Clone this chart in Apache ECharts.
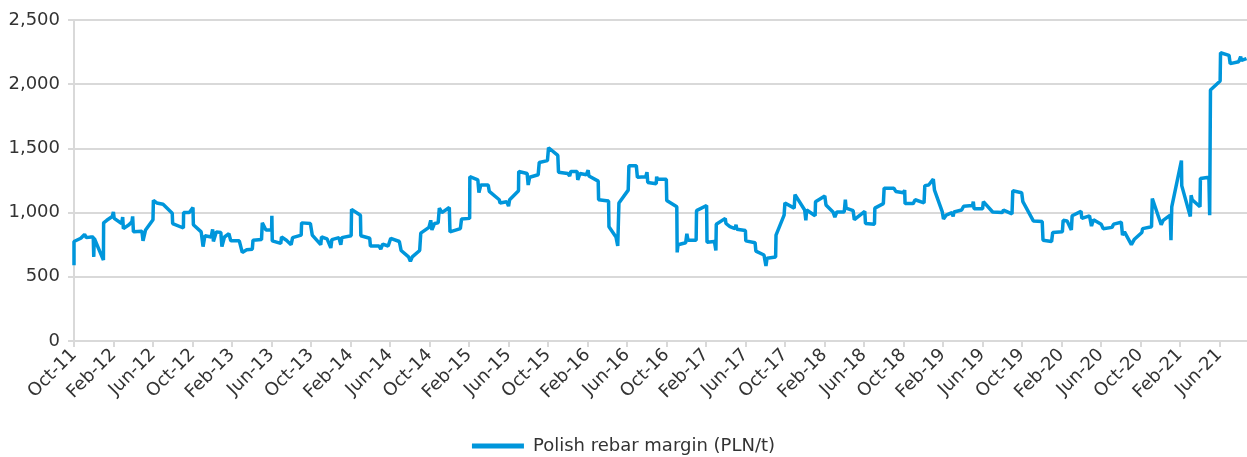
<!DOCTYPE html>
<html>
<head>
<meta charset="utf-8">
<script src="https://cdn.jsdelivr.net/npm/echarts@6/dist/echarts.min.js"></script>
<style>
  html, body { margin: 0; padding: 0; background: #fff; }
  #chart { width: 1247px; height: 457px; }
</style>
</head>
<body>
<div id="chart"></div>
<script>
// x = months since Oct-11
const months = [
  0.00, 0.00, 0.69, 1.07, 1.25, 1.74, 1.95, 2.00, 2.05, 2.98, 3.00, 3.32, 3.88, 3.99, 4.07, 4.82, 4.93, 5.00,
  5.57, 5.87, 5.94, 6.02, 6.88, 6.99, 7.25, 8.00, 8.04, 8.38, 9.02, 9.95, 9.99, 11.08, 11.10, 11.68, 12.05, 12.09,
  12.88, 13.07, 13.26, 13.89, 14.04, 14.12, 14.42, 14.87, 14.98, 15.24, 15.69, 15.88, 16.74, 17.04, 17.49, 18.06,
  18.13, 18.99, 19.07, 19.44, 20.01, 20.04, 20.08, 20.94, 21.02, 21.51, 21.99, 22.14, 23.01, 23.05, 23.94, 24.13,
  24.99, 25.07, 25.63, 26.01, 26.12, 26.83, 27.02, 27.13, 28.07, 28.11, 29.01, 29.05, 29.95, 30.02, 30.88, 31.07,
  31.26, 31.82, 32.08, 32.95, 33.13, 33.88, 34.07, 34.26, 35.01, 35.12, 35.95, 36.13, 36.25, 36.51, 36.88, 37.00,
  37.26, 38.01, 38.08, 39.13, 39.25, 40.07, 40.09, 40.90, 41.01, 41.20, 41.95, 42.06, 43.07, 43.15, 43.82, 44.01,
  44.12, 45.02, 45.04, 45.89, 46.00, 46.15, 47.01, 47.12, 47.95, 48.06, 49.00, 49.07, 50.01, 50.20, 50.31, 50.95,
  51.02, 51.25, 51.89, 52.07, 52.15, 53.09, 53.13, 54.14, 54.18, 54.89, 55.07, 55.19, 56.13, 56.20, 56.95, 57.06,
  57.91, 58.03, 58.11, 58.97, 59.01, 59.09, 59.99, 60.03, 61.05, 61.09, 61.17, 61.95, 62.07, 62.19, 63.01, 63.05,
  64.07, 64.11, 64.86, 65.01, 65.05, 65.96, 66.03, 66.43, 66.94, 67.05, 67.13, 68.00, 68.04, 68.98, 69.06, 69.88,
  70.08, 70.19, 71.06, 71.10, 71.92, 72.00, 72.94, 73.02, 74.00, 74.12, 74.20, 75.06, 75.10, 76.04, 76.16, 76.87,
  77.06, 77.26, 78.01, 78.12, 78.20, 78.91, 79.03, 80.09, 80.16, 81.07, 81.11, 81.97, 82.05, 83.03, 83.23, 84.01,
  84.13, 84.17, 84.99, 85.19, 86.09, 86.17, 86.56, 87.03, 87.15, 87.94, 88.06, 88.33, 88.92, 89.04, 89.12, 89.90,
  90.10, 90.29, 91.00, 91.08, 91.16, 92.02, 92.10, 93.04, 94.02, 94.14, 95.00, 95.08, 95.20, 95.98, 96.10, 97.16,
  98.06, 98.14, 99.01, 99.12, 100.10, 100.18, 100.58, 101.01, 101.09, 101.99, 102.07, 102.85, 103.05, 103.25,
  104.03, 104.23, 105.13, 105.29, 106.07, 106.19, 106.39, 107.09, 107.37, 108.15, 108.23, 109.13, 109.21, 110.11,
  110.31, 111.02, 111.10, 111.18, 112.16, 112.19, 113.06, 113.14, 113.25, 114.04, 114.08, 114.94, 115.02, 115.10,
  116.08, 116.12, 116.98, 117.10, 117.96, 118.16, 118.24, 118.75
];

// Polish rebar margin, PLN/t
const margin = [
  590, 775, 800, 830, 805, 810, 810, 655, 800, 630, 920, 940, 970, 1005, 955, 915, 965, 875,
  905, 930, 970, 850, 855, 780, 865, 945, 1095, 1075, 1065, 995, 915, 880, 1000, 1000, 1040, 905,
  850, 735, 820, 810, 870, 775, 850, 845, 735, 810, 835, 780, 780, 690, 710, 715,
  785, 790, 920, 865, 865, 975, 780, 760, 810, 785, 750, 805, 825, 920, 915, 825,
  750, 810, 795, 725, 790, 805, 750, 805, 820, 1025, 980, 820, 800, 740, 740, 715,
  755, 740, 800, 775, 705, 655, 620, 655, 705, 840, 885, 940, 865, 915, 920, 1035,
  1000, 1040, 850, 875, 950, 955, 1280, 1255, 1155, 1215, 1215, 1165, 1100, 1075, 1085, 1050,
  1100, 1170, 1320, 1305, 1215, 1275, 1295, 1390, 1405, 1505, 1445, 1315, 1305, 1285, 1320, 1320,
  1255, 1305, 1295, 1330, 1285, 1245, 1100, 1090, 890, 810, 740, 1075, 1175, 1365, 1365, 1275,
  1280, 1315, 1235, 1225, 1280, 1260, 1260, 1095, 1045, 690, 750, 765, 835, 785, 785, 1015,
  1055, 770, 775, 705, 910, 955, 915, 890, 875, 905, 870, 860, 780, 765, 700, 670,
  585, 645, 655, 825, 980, 1075, 1035, 1140, 1020, 940, 1020, 975, 1085, 1130, 1060, 1005,
  965, 1005, 1005, 1100, 1035, 1015, 945, 1010, 915, 910, 1035, 1070, 1190, 1190, 1165, 1155,
  1175, 1070, 1070, 1100, 1075, 1210, 1215, 1260, 1175, 1005, 950, 980, 1000, 970, 1005, 1020,
  1050, 1040, 1055, 1085, 1030, 1030, 1085, 1005, 1000, 1020, 990, 1170, 1155, 1155, 1085, 935,
  930, 785, 775, 845, 850, 940, 935, 865, 975, 1010, 955, 975, 895, 945,
  910, 875, 885, 910, 925, 825, 850, 750, 790, 845, 875, 890, 1110, 905,
  940, 980, 785, 1045, 1405, 1210, 970, 1135, 1100, 1045, 1265, 1275, 980, 1955,
  2025, 2245, 2225, 2160, 2175, 2215, 2185, 2200
];

// one label every 4 months, starting Oct-11
const tickLabels = [
  'Oct-11', 'Feb-12', 'Jun-12', 'Oct-12', 'Feb-13', 'Jun-13', 'Oct-13', 'Feb-14', 'Jun-14', 'Oct-14',
  'Feb-15', 'Jun-15', 'Oct-15', 'Feb-16', 'Jun-16', 'Oct-16', 'Feb-17', 'Jun-17', 'Oct-17', 'Feb-18',
  'Jun-18', 'Oct-18', 'Feb-19', 'Jun-19', 'Oct-19', 'Feb-20', 'Jun-20', 'Oct-20', 'Feb-21', 'Jun-21'
];

const seriesName = 'Polish rebar margin (PLN/t)';
const lineColor = '#0096db';
const gridColor = '#d9d9d9';
const textColor = '#333';
const font = 'DejaVu Sans';

const chart = echarts.init(document.getElementById('chart'));

chart.setOption({
  animation: false,
  grid: { left: 74, right: 0, top: 20, bottom: 116 },
  legend: {
    bottom: -3,
    left: 'center',
    icon: 'rect',
    itemWidth: 52,
    itemHeight: 5,
    textStyle: { color: textColor, fontSize: 18, fontFamily: font, padding: [0, 0, 0, 4] },
    data: [seriesName],
  },
  xAxis: {
    type: 'value',
    min: 0,
    max: 118.8,
    interval: 4,
    splitLine: { show: false },
    axisLine: { lineStyle: { color: gridColor, width: 2 } },
    axisTick: { show: true, length: 6, lineStyle: { color: gridColor, width: 2 } },
    axisLabel: {
      rotate: 45,
      margin: 11,
      color: textColor,
      fontSize: 18,
      fontFamily: font,
      showMaxLabel: false,
      formatter: (v) => (v % 4 === 0 ? tickLabels[v / 4] || '' : ''),
    },
  },
  yAxis: {
    type: 'value',
    min: 0,
    max: 2500,
    interval: 500,
    axisLine: { show: true, lineStyle: { color: gridColor, width: 2 } },
    axisTick: { show: true, length: 6, lineStyle: { color: gridColor, width: 2 } },
    splitLine: { lineStyle: { color: gridColor, width: 2 } },
    axisLabel: { color: textColor, fontSize: 18, fontFamily: font, margin: 14 },
  },
  series: [
    {
      name: seriesName,
      type: 'line',
      data: months.map((m, i) => [m, margin[i]]),
      showSymbol: false,
      color: lineColor,
      lineStyle: { color: lineColor, width: 3.5 },
    },
  ],
});
</script>
</body>
</html>
